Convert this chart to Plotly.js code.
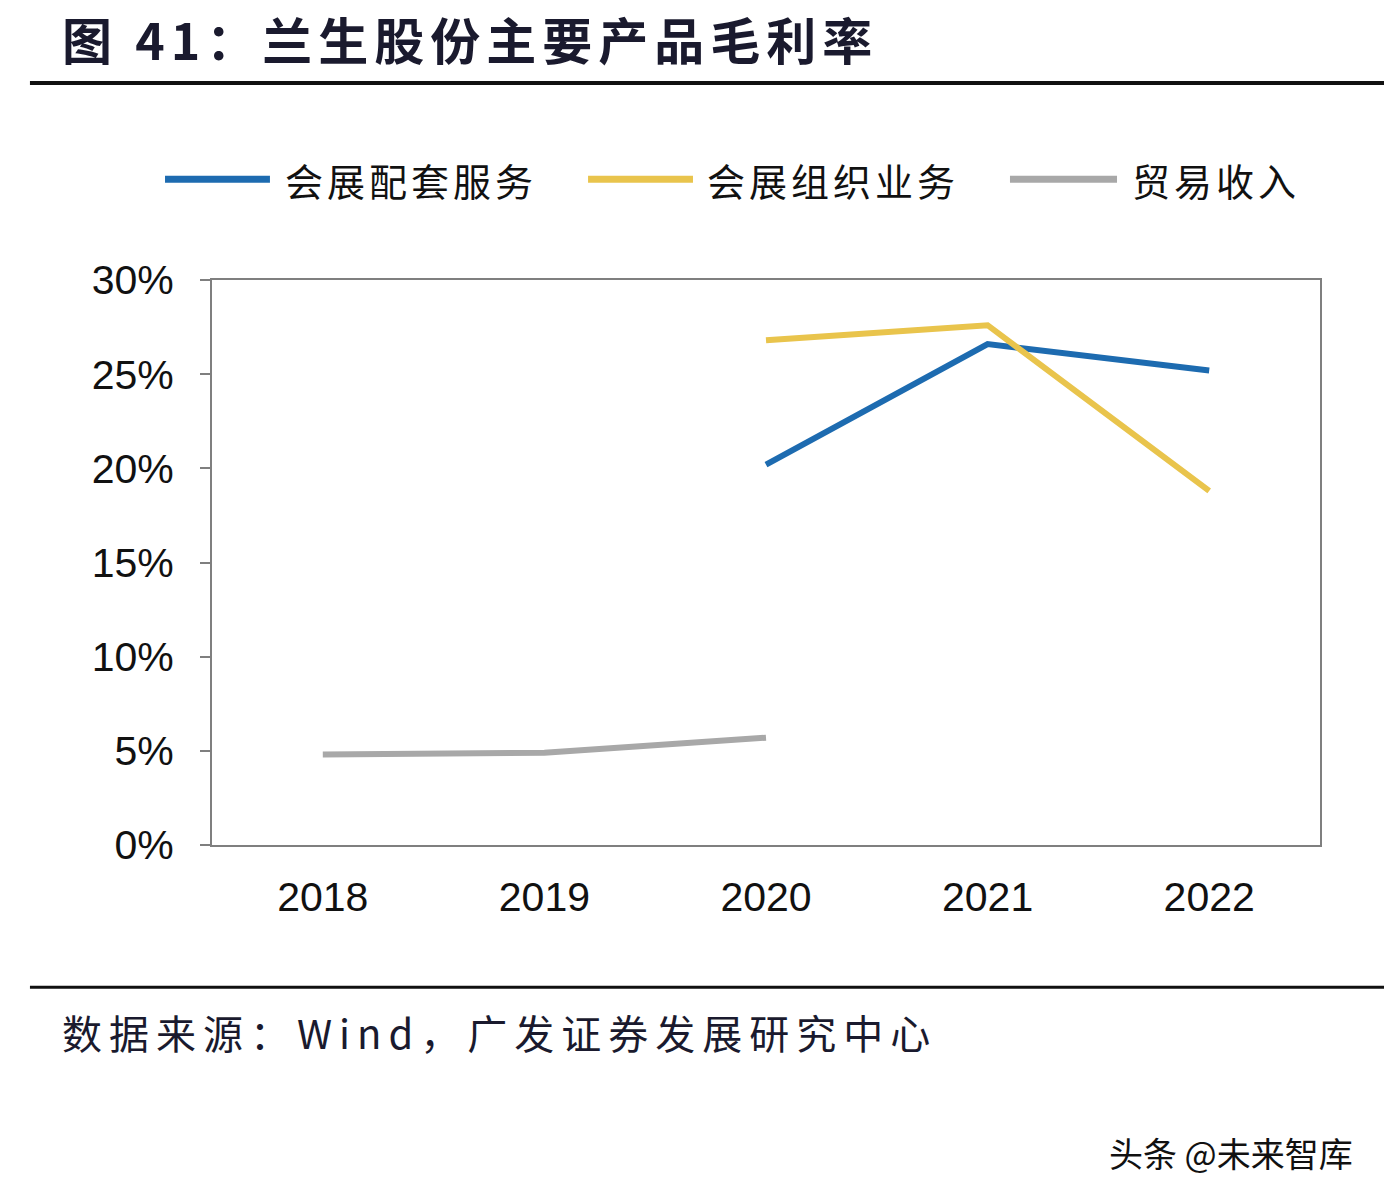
<!DOCTYPE html>
<html>
<head>
<meta charset="utf-8">
<script src="https://cdn.plot.ly/plotly-3.0.1.min.js"></script>
<style>html,body{margin:0;padding:0;background:#fff;}</style>
</head>
<body>
<div id="chart" style="width:1384px;height:1202px;"></div>
<script>
const years = ['2018', '2019', '2020', '2021', '2022'];
const seriesNames = ['会展配套服务', '会展组织业务', '贸易收入'];
const exhibitionServices = [null, null, 20.2, 26.6, 25.2];
const exhibitionOrganizing = [null, null, 26.8, 27.6, 18.8];
const tradeIncome = [4.8, 4.9, 5.7, null, null];
const yTickVals = [0, 5, 10, 15, 20, 25, 30];
const yTickText = ['0%', '5%', '10%', '15%', '20%', '25%', '30%'];
const titleText = '图 41：兰生股份主要产品毛利率';
const sourceText = '数据来源：Wind，广发证券发展研究中心';
const watermarkText = '头条 @未来智库';

const colors = ['#1d6bb0', '#e9c44c', '#a8a8a8'];
const cjk = '"Noto Sans CJK SC", "Liberation Sans", sans-serif';
const latin = '"Liberation Sans", Arial, sans-serif';
const spaced = (t, px) => '<span style="letter-spacing:' + px + 'px">' + t + '</span>';

const values = [exhibitionServices, exhibitionOrganizing, tradeIncome];
const traces = values.map((v, i) => ({
  x: years, y: v, name: seriesNames[i], type: 'scatter', mode: 'lines',
  line: {color: colors[i], width: 6}, connectgaps: false, showlegend: false
}));

// legend drawn as line samples + labels (long samples as in the original)
const legendY = 1.1785;
const legendLineX = [[-0.0424, 0.0523], [0.3394, 0.4341], [0.7202, 0.8168]];
const legendTextX = [0.0641, 0.4449, 0.8285];
const shapes = [
  {type: 'line', xref: 'paper', yref: 'paper', x0: -0.1643, x1: 1.0993, y0: 1.3486, y1: 1.3486, line: {color: '#111', width: 4}},
  {type: 'line', xref: 'paper', yref: 'paper', x0: -0.1643, x1: 1.0993, y0: -0.2516, y1: -0.2516, line: {color: '#111', width: 3}}
];
const annotations = [
  {text: spaced(sourceText, 7), xref: 'paper', yref: 'paper', x: -0.1372, y: -0.3314, xanchor: 'left', yanchor: 'middle', showarrow: false,
   font: {family: cjk, size: 40, color: '#1a1a2e'}},
  {text: watermarkText, xref: 'paper', yref: 'paper', x: 1.0316, y: -0.544, xanchor: 'right', yanchor: 'middle', showarrow: false,
   font: {family: cjk, size: 34, color: '#111'}}
];
seriesNames.forEach((n, i) => {
  shapes.push({type: 'line', xref: 'paper', yref: 'paper', x0: legendLineX[i][0], x1: legendLineX[i][1], y0: legendY, y1: legendY,
    line: {color: colors[i], width: 7}});
  annotations.push({text: spaced(n, 4), xref: 'paper', yref: 'paper', x: legendTextX[i], y: legendY, xanchor: 'left', yanchor: 'middle',
    showarrow: false, font: {family: cjk, size: 38, color: '#111'}});
});

const layout = {
  width: 1384, height: 1202,
  margin: {l: 212, r: 64, t: 280, b: 357},
  paper_bgcolor: '#ffffff', plot_bgcolor: '#ffffff',
  showlegend: false,
  title: {
    text: spaced(titleText, 6), xref: 'container', yref: 'container',
    x: 62 / 1384, xanchor: 'left', y: 1 - 42 / 1202, yanchor: 'middle',
    font: {family: cjk, size: 50, color: '#1a1a2e', weight: 'bold'}
  },
  xaxis: {
    type: 'category', range: [-0.5, 4.5],
    showline: true, linecolor: '#7f7f7f', linewidth: 2, mirror: true,
    showgrid: false, zeroline: false, ticks: '',
    tickfont: {family: latin, size: 41, color: '#111'},
    ticklabelstandoff: 15
  },
  yaxis: {
    range: [0, 30], tickvals: yTickVals, ticktext: yTickText,
    showline: true, linecolor: '#7f7f7f', linewidth: 2, mirror: true,
    showgrid: false, zeroline: false, ticks: 'outside', ticklen: 10, tickcolor: '#7f7f7f', tickwidth: 2,
    tickfont: {family: latin, size: 41, color: '#111'},
    ticklabelstandoff: 18
  },
  shapes: shapes,
  annotations: annotations
};

Plotly.newPlot('chart', traces, layout, {displayModeBar: false, staticPlot: true});
</script>
</body>
</html>
